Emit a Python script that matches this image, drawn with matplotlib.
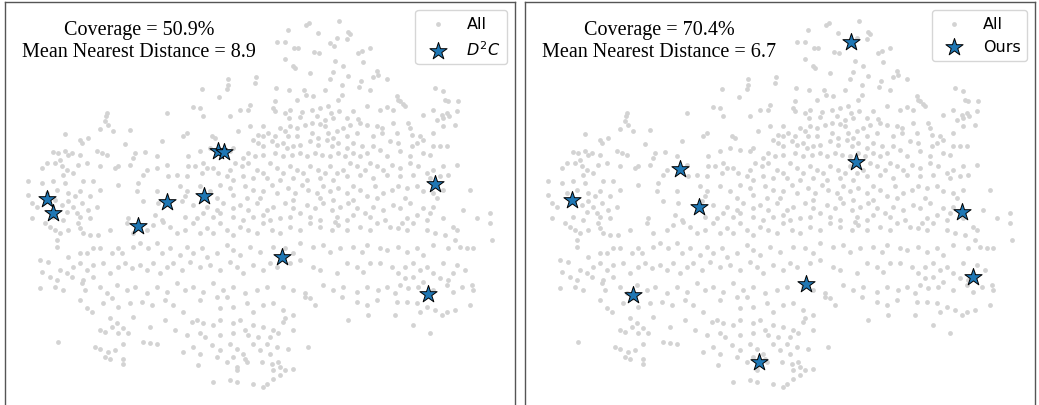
import matplotlib
matplotlib.use("Agg")
import matplotlib.pyplot as plt

# embedding coordinates of all samples (arbitrary units)
all_pts = [
    (928,70),(918,76),(1018,64),(865,92),(955,100),(1045,97),(1050,105),
    (832,128),(855,128),(882,145),(895,145),(990,130),(1012,115),(1040,120),(1003,140),(1085,155),(1110,145),
    (942,158),(958,162),(855,180),(1005,186),(1090,188),(1075,160),
    (880,200),(885,205),(1028,200),(1000,218),(930,220),(1130,215),(1135,225),(1120,232),(1045,228),(768,232),
    (685,238),(1160,238),(990,238),
    (683,255),(765,250),(680,268),(605,268),(658,292),(828,265),(868,270),(913,270),(975,272),(1025,255),
    (1082,245),(1078,262),(1110,270),(1025,285),(1305,265),(1328,275),(1015,300),(918,285),(940,290),
    (1190,288),(1195,300),(1335,300),(1345,305),(1373,303),(825,305),(890,300),
    (580,322),(600,325),(500,340),(610,350),(690,350),(720,330),(750,315),(745,330),(820,325),(825,335),
    (855,340),(870,330),(905,338),(935,330),(960,325),(985,318),(992,340),(950,350),(1018,335),(1060,335),
    (1100,320),(1140,330),(1160,322),(1200,305),(1215,318),(1270,345),(1300,330),(1325,345),(1340,340),
    (1370,335),(1310,360),(1328,355),(1348,348),(1040,355),(1075,357),(1000,355),(975,360),(868,355),
    (900,352),(320,340),(318,350),(1210,312),(1180,330),
    (315,365),(325,375),(300,388),(390,390),(340,395),(195,402),(715,395),(750,380),(790,380),(805,400),
    (825,410),(840,385),(855,395),(870,380),(890,385),(915,375),(935,370),(960,372),(975,380),(985,400),
    (1010,395),(1030,385),(1050,375),(1080,370),(1100,375),(1130,380),(1145,385),(1180,370),(1190,400),
    (1225,370),(1230,385),(1235,405),(1260,410),(1300,400),(1330,380),(1365,375),(1145,400),(560,400),
    (550,410),(635,410),(645,415),(775,405),(790,410),(865,410),(890,410),(1040,410),(1070,400),(1120,410),
    (1000,415),(955,415),(935,400),
    (240,420),(245,430),(265,415),(375,432),(485,425),(160,458),(175,460),(195,455),(205,465),(215,460),
    (290,455),(305,460),(320,465),(405,460),(435,458),(470,470),(565,470),(600,455),(630,445),(660,450),
    (690,455),(700,445),(760,420),(775,430),(790,440),(815,425),(830,435),(850,430),(860,445),(880,440),
    (900,435),(930,425),(955,435),(980,420),(995,440),(1015,430),(1040,445),(1060,430),(1085,440),
    (1100,460),(1120,440),(1140,450),(1170,425),(1195,430),(1200,455),(1235,440),(1250,430),(1270,420),
    (1300,440),(1320,440),(1340,440),(1270,460),(1290,465),(1230,470),(745,460),(730,475),(765,470),
    (790,465),(825,460),(850,470),(875,465),(900,460),(920,470),(945,460),(965,465),(990,470),(1015,460),
    (1035,470),(1060,460),(1080,470),(1160,470),(400,475),(140,490),(180,480),(240,465),
    (125,505),(165,490),(185,500),(200,510),(190,525),(220,520),(235,495),(260,490),(300,500),(345,505),
    (355,498),(390,495),(440,510),(470,505),(500,495),(505,530),(565,500),(585,500),(610,490),(620,505),
    (605,520),(640,505),(655,520),(690,510),(705,490),(725,500),(745,490),(770,510),(790,520),(810,490),
    (830,505),(850,520),(870,500),(890,510),(910,520),(930,500),(955,510),(975,520),(990,500),(1010,520),
    (1030,510),(1050,490),(1070,500),(1095,510),(1110,490),(1130,500),(1150,510),(1175,495),(1200,505),
    (1230,490),(1255,500),(1280,520),(1300,510),(1330,500),(1370,495),(1320,530),(1345,525),(1160,525),
    (530,525),(560,530),(680,530),(700,540),(730,530),(760,535),(800,535),(840,540),(880,535),(920,540),
    (960,535),(1000,540),(1040,530),(1080,525),(1120,535),(1200,530),(1240,525),(1290,535),(430,525),
    (85,545),(125,550),(160,545),(195,550),(250,545),(280,545),(300,570),(355,555),(410,575),(415,550),
    (470,575),(540,560),(560,575),(600,560),(630,575),(660,555),(690,565),(700,585),(735,560),(760,570),
    (790,575),(815,555),(830,580),(865,565),(885,580),(905,555),(925,570),(950,580),(970,560),(990,575),
    (1015,565),(1040,580),(1060,560),(1080,570),(1100,590),(1125,560),(1150,580),(1175,570),(1195,560),
    (1220,565),(1250,560),(1270,575),(1300,580),(1330,570),(1410,570),(140,580),(170,570),(205,580),
    (225,590),(240,575),(270,590),(555,590),(650,595),(740,595),(780,595),(880,600),(960,595),(1000,600),
    (1060,600),(1130,595),(1215,595),(1310,595),(85,585),
    (95,610),(110,620),(165,600),(185,615),(205,605),(220,620),(245,610),(200,635),(230,640),(265,630),
    (290,620),(430,605),(475,610),(545,605),(580,615),(620,620),(650,630),(670,610),(700,625),(720,615),
    (745,630),(770,610),(800,630),(820,620),(855,610),(880,625),(900,640),(920,615),(945,625),(970,610),
    (995,630),(1020,620),(1045,610),(1070,625),(1095,640),(1120,620),(1150,630),(1180,615),(1200,625),
    (1230,610),(1270,625),(1300,620),(1290,640),(1390,630),(1470,640),(95,655),(160,650),(190,660),
    (240,650),(270,655),(385,655),(465,645),(485,660),(555,650),(590,655),(610,640),(640,650),(660,640),
    (700,650),(730,660),(760,650),(790,645),(810,660),(840,655),(870,650),(930,650),(960,660),(1010,650),
    (1040,660),(1060,645),(1110,650),(1155,660),(1220,655),(1250,645),(1280,660),(1330,655),
    (135,670),(150,680),(165,690),(180,700),(205,690),(235,670),(240,685),(250,700),(270,705),(295,705),
    (330,690),(380,670),(400,700),(440,690),(460,675),(490,665),(510,680),(530,700),(555,690),(580,670),
    (600,700),(620,685),(640,700),(660,670),(680,690),(700,705),(720,680),(745,690),(770,700),(790,670),
    (815,690),(840,700),(870,680),(900,690),(930,670),(960,680),(995,690),(1015,675),(1040,690),(1080,680),
    (1110,690),(1130,670),(1170,680),(1195,685),(1220,690),(1240,670),(1280,690),(1305,700),(1335,705),
    (1360,680),(1370,690),(1470,670),(1475,720),(1005,665),(1205,670),(1430,655),
    (170,720),(170,740),(205,770),(240,760),(260,760),(280,745),(300,745),(335,760),(355,745),(365,760),
    (400,740),(420,730),(445,745),(470,730),(485,760),(510,745),(540,765),(560,740),(580,760),(605,745),
    (620,770),(650,760),(680,735),(700,750),(720,765),(750,740),(780,755),(820,740),(855,745),(880,760),
    (900,730),(940,740),(970,735),(990,755),(1020,745),(1060,740),(1085,755),(1100,735),(1140,745),
    (1160,750),(1195,740),(1220,755),(1250,745),(1270,765),(1300,735),(1345,745),(1365,720),(1380,740),
    (1400,745),(1420,745),(120,780),(145,785),
    (180,810),(200,820),(220,800),(240,790),(260,810),(280,795),(310,790),(330,820),(355,800),(375,790),
    (395,805),(420,795),(440,810),(460,790),(480,820),(500,800),(520,790),(545,810),(570,785),(600,800),
    (630,795),(660,810),(690,785),(710,800),(730,820),(760,795),(790,810),(810,790),(830,800),(870,790),
    (900,780),(940,800),(960,810),(1010,820),(1040,790),(1070,800),(1090,815),(1110,790),(1140,790),
    (1175,800),(1195,820),(1215,800),(1240,790),(1260,810),(1280,800),(1300,820),(1330,790),(1370,795),
    (1395,810),(125,815),(150,830),(170,840),(215,830),(250,840),(280,830),
    (120,865),(165,860),(190,870),(245,850),(255,870),(300,860),(320,880),(350,855),(380,870),(405,860),
    (440,880),(470,860),(500,875),(530,850),(555,870),(580,860),(610,875),(640,850),(670,870),(700,860),
    (735,880),(770,870),(800,860),(850,860),(880,870),(915,880),(970,855),(1000,870),(1030,860),(1070,875),
    (1100,860),(1135,870),(1160,860),(1185,880),(1200,855),(1225,865),(1255,860),(1300,870),(1340,855),
    (1360,875),(1385,860),(1415,855),(1420,870),(1215,835),(1240,830),(1270,845),(1320,835),(1345,840),
    (1360,820),
    (240,900),(260,925),(275,935),(310,910),(335,895),(355,920),(390,910),(425,905),(455,915),(495,900),
    (520,915),(550,935),(600,900),(650,890),(680,890),(660,925),(700,920),(740,910),(760,935),(790,915),
    (820,910),(850,930),(880,945),(915,890),(930,895),(945,915),(1025,890),(1070,905),(1100,915),
    (1130,900),(1190,905),(1220,905),(1250,910),(1280,920),(1305,930),(1340,935),(1365,930),(1410,915),
    (1105,945),(1185,945),(1260,935),(1325,945),(1045,960),(855,955),(400,950),(330,955),
    (300,990),(315,995),(335,980),(350,970),(370,985),(355,1000),(385,1000),(450,980),(495,960),(525,990),
    (575,965),(590,960),(610,970),(640,975),(660,960),(700,970),(720,960),(735,990),(760,975),(790,980),
    (820,990),(850,965),(880,990),(1240,975),(1290,1000),(600,1000),(615,1010),(660,1005),(700,1000),
    (745,1005),(775,1010),(810,1010),(835,1000),(560,1005),
    (173,1025),(285,1040),(300,1045),(325,1055),(345,1050),(370,1030),(430,1025),(450,1028),(470,1030),
    (550,1055),(580,1040),(600,1060),(635,1035),(660,1050),(690,1030),(710,1045),(730,1060),(760,1030),
    (780,1050),(800,1030),(830,1040),(865,1045),(925,1040),(315,1070),(330,1075),(370,1075),(650,1070),
    (700,1070),(735,1075),(810,1060),
    (370,1090),(595,1095),(680,1085),(710,1100),(740,1085),(785,1085),(815,1090),(835,1085),(855,1110),
    (880,1105),(640,1145),(690,1140),(710,1145),(760,1150),(790,1160),(800,1150),(820,1135),(840,1125),
    (710,1110),(820,1110),(840,1100),
]
all_x = [p[0] for p in all_pts]
all_y = [p[1] for p in all_pts]

# selected samples
d2c_x = [140, 158, 413, 501, 612, 655, 672, 847, 1305, 1283]
d2c_y = [597, 640, 678, 606, 588, 455, 458, 770, 552, 882]
ours_x = [157, 480, 538, 340, 718, 857, 993, 1007, 1327, 1360]
ours_y = [600, 508, 620, 886, 1085, 852, 128, 488, 635, 830]

panels = [
    ("$D^2C$", d2c_x, d2c_y, "Coverage = 50.9%\nMean Nearest Distance = 8.9"),
    ("Ours", ours_x, ours_y, "Coverage = 70.4%\nMean Nearest Distance = 6.7"),
]

W, H = 1039, 406
fig = plt.figure(figsize=(W / 100, H / 100), dpi=100)
lefts = [5, 525]

for (label, sx, sy, txt), left in zip(panels, lefts):
    ax = fig.add_axes([left / W, -2 / H, 510 / W, 405 / H])
    ax.scatter(all_x, all_y, s=12, color="#d3d3d3", linewidths=0, label="All")
    ax.scatter(sx, sy, s=170, marker="*", color="#1f77b4", edgecolors="black",
               linewidths=0.7, label=label, zorder=3)
    ax.set_xlim(15, 1545)
    ax.set_ylim(1220, 8)
    ax.set_xticks([])
    ax.set_yticks([])
    for sp in ax.spines.values():
        sp.set_color("#555555")
        sp.set_linewidth(1.0)
    ax.text(0.263, 0.905, txt, transform=ax.transAxes, ha="center", va="center",
            fontsize=14.5, family="Liberation Serif", linespacing=1.25)
    ax.legend(loc="upper right", fontsize=11.5, handletextpad=0.8)

fig.savefig("out.png", dpi=100)
